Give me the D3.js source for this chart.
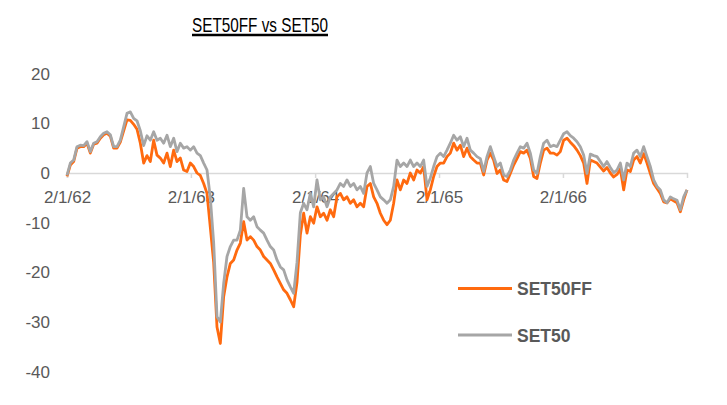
<!DOCTYPE html>
<html lang="en">
  <head>
    <script src="https://d3js.org/d3.v7.min.js"></script>
    <style>
      body { margin: 0; background: #fff; }
      text { font-family: "Liberation Sans", Arial, sans-serif; }
    </style>
  </head>
  <body>
    <script>
      // readings from the chart, one value about every 9.8 days from 2 Jan 2562 (2019)
      var set50ff = [
        -0.7, 1.6, 2.3, 5.0, 5.3, 5.3, 6.0, 4.0, 5.8, 6.0,
        7.0, 7.7, 8.0, 7.4, 5.0, 5.0, 6.2, 8.5, 10.7, 10.6,
        9.8, 8.8, 6.0, 2.0, 3.5, 2.3, 6.6, 3.6, 3.0, 2.0,
        4.0, 1.3, 4.6, 2.3, 3.0, 0.6, 0.3, 2.0, 1.3, 0.0,
        -0.5, -2.1, -4.1, -11.0, -18.0, -31.0, -34.3, -24.9, -20.9, -18.2,
        -17.5, -15.5, -14.1, -9.8, -13.5, -12.8, -13.5, -14.8, -15.5, -16.8,
        -17.5, -18.2, -19.5, -20.9, -22.2, -23.5, -24.2, -25.5, -26.9, -22.0,
        -12.5, -8.1, -12.1, -8.8, -10.1, -6.8, -8.8, -8.1, -9.5, -7.4,
        -8.8, -4.8, -4.1, -5.4, -4.8, -6.1, -5.4, -6.8, -6.1, -6.8,
        -2.7, -2.1, -4.8, -6.1, -8.1, -9.5, -10.4, -9.5, -6.1, -1.4,
        -3.4, -1.4, -2.1, 0.0, -1.4, 0.6, 0.0, 1.3, -5.4, -3.4,
        -0.7, 1.3, 2.0, 2.0, 3.3, 4.0, 6.0, 4.6, 5.6, 3.3,
        5.0, 3.3, 2.6, 2.0, 2.0, -0.4, 2.6, 4.0, 2.6, -0.1,
        0.6, -1.4, -1.7, -0.1, 1.6, 2.9, 4.3, 4.0, 4.6, 2.9,
        -0.7, -1.1, 2.0, 4.6, 5.0, 4.0, 4.0, 3.6, 4.3, 6.6,
        7.0, 6.2, 5.5, 4.6, 3.5, 2.0, -2.1, 2.6, 2.3, 2.0,
        1.2, 0.4, 1.1, 0.0, -0.8, -0.3, 0.8, -3.4, 0.6, 0.3,
        2.6, 3.3, 2.0, 3.9, 2.0, -0.1, -2.1, -3.1, -4.1, -5.8,
        -6.0, -5.2, -5.6, -6.0, -7.8, -5.4, -3.4
      ];
      var set50 = [
        -0.5, 2.0, 2.6, 5.3, 5.6, 5.5, 6.3, 4.3, 6.0, 6.3,
        7.3, 8.0, 8.3, 7.7, 5.3, 5.3, 6.6, 9.3, 12.0, 12.3,
        11.0, 10.5, 8.5, 5.5, 7.5, 6.6, 8.3, 6.6, 7.0, 6.0,
        7.6, 5.3, 7.0, 4.3, 6.0, 5.0, 5.3, 4.6, 5.3, 4.0,
        3.5, 2.0, 0.6, -5.0, -14.0, -28.9, -30.0, -22.2, -16.8, -14.8,
        -13.5, -13.5, -11.5, -3.1, -8.8, -9.5, -8.8, -10.8, -11.5, -12.1,
        -13.5, -14.8, -15.5, -17.5, -18.9, -19.5, -21.5, -22.9, -24.2, -18.0,
        -8.0, -6.1, -7.4, -4.1, -6.8, -1.4, -5.4, -4.8, -6.8, -4.8,
        -4.1, -3.4, -2.1, -2.7, -1.4, -2.7, -2.1, -3.4, -2.7, -4.1,
        0.0, 1.3, -2.1, -3.4, -4.8, -5.4, -6.1, -5.4, -2.7, 2.6,
        1.3, 2.0, 1.3, 2.6, 1.3, 2.0, 1.3, 2.6, -2.7, -1.0,
        1.3, 3.3, 4.0, 3.3, 4.6, 6.0, 7.6, 6.6, 7.3, 5.3,
        7.0, 4.6, 4.0, 3.3, 2.9, 0.3, 3.3, 5.3, 3.3, 1.3,
        2.0, -0.4, -0.7, 0.6, 2.6, 4.0, 5.3, 5.0, 6.0, 4.0,
        0.6, -0.1, 3.3, 6.0, 6.6, 5.3, 5.6, 5.3, 6.6, 7.9,
        8.3, 7.5, 7.0, 6.3, 5.3, 3.6, -0.1, 3.8, 3.5, 3.3,
        2.3, 1.3, 2.3, 1.1, 0.1, 0.6, 2.0, -1.4, 2.0, 1.3,
        4.0, 4.6, 3.3, 5.3, 3.3, 1.3, -1.4, -2.7, -3.4, -5.4,
        -6.0, -4.8, -5.2, -5.5, -7.4, -4.8, -3.4
      ];
      var startDate = new Date(2019, 0, 2);
      var stepDays = 9.82;
      var tickDates = [
        new Date(2019, 0, 2),
        new Date(2020, 0, 2),
        new Date(2021, 0, 2),
        new Date(2022, 0, 2),
        new Date(2023, 0, 2)
      ];
      var yTicks = [20, 10, 0, -10, -20, -30, -40];

      var width = 727,
        height = 405;

      var dates = set50.map(function (d, i) {
        return new Date(startDate.getTime() + i * stepDays * 864e5);
      });

      var svg = d3
        .select("body")
        .append("svg")
        .attr("width", width)
        .attr("height", height);

      var x = d3
        .scaleTime()
        .domain([startDate, dates[dates.length - 1]])
        .range([67, 687]);

      var y = d3.scaleLinear().domain([-40, 20]).range([371.8, 73.6]);

      // title: narrow look, squeeze a normal sans to the original width
      var titleG = svg.append("g");
      var title = titleG
        .append("text")
        .attr("x", 0)
        .attr("y", 0)
        .attr("text-anchor", "middle")
        .style("font-size", "20px")
        .attr("fill", "#000")
        .text("SET50FF vs SET50");
      var tb = title.node().getBBox();
      var sx = 136 / tb.width;
      titleG.attr("transform", "translate(260,32) scale(" + sx + ",1)");
      titleG
        .append("line")
        .attr("x1", tb.x)
        .attr("x2", tb.x + tb.width)
        .attr("y1", 3)
        .attr("y2", 3)
        .attr("stroke", "#000")
        .attr("stroke-width", 2.5);

      // y labels (no axis line in the original)
      svg
        .append("g")
        .selectAll("text")
        .data(yTicks)
        .join("text")
        .attr("x", 50)
        .attr("y", function (d) {
          return y(d) + 6;
        })
        .attr("text-anchor", "end")
        .attr("fill", "#595959")
        .style("font-size", "17px")
        .text(function (d) {
          return d;
        });

      // zero line with date ticks
      var xAxis = d3
        .axisBottom(x)
        .tickValues(tickDates)
        .tickSize(5)
        .tickPadding(13)
        .tickFormat(function (d) {
          return d.getDate() + "/" + (d.getMonth() + 1) + "/" + ((d.getFullYear() + 543) % 100);
        });
      var gx = svg
        .append("g")
        .attr("transform", "translate(0," + y(0) + ")")
        .call(xAxis);
      gx.select(".domain").attr("stroke", "#d9d9d9").attr("stroke-width", 1.5);
      gx.selectAll(".tick line").attr("stroke", "#d9d9d9").attr("stroke-width", 1.5);
      gx.selectAll(".tick text")
        .attr("fill", "#595959")
        .style("font-size", "17px")
        .style("font-family", '"Liberation Sans", Arial, sans-serif');

      var line = d3
        .line()
        .x(function (d, i) {
          return x(dates[i]);
        })
        .y(function (d) {
          return y(d);
        });

      var series = [
        { name: "SET50FF", values: set50ff, color: "#ff6a0f" },
        { name: "SET50", values: set50, color: "#a6a6a6" }
      ];

      svg
        .selectAll("path.series")
        .data(series)
        .join("path")
        .attr("class", "series")
        .attr("fill", "none")
        .attr("stroke", function (d) {
          return d.color;
        })
        .attr("stroke-width", 2.8)
        .attr("stroke-linejoin", "round")
        .attr("d", function (d) {
          return line(d.values);
        });

      // legend
      var legend = svg
        .append("g")
        .selectAll("g")
        .data(series)
        .join("g")
        .attr("transform", function (d, i) {
          return "translate(458," + (288.5 + i * 46.5) + ")";
        });
      legend
        .append("line")
        .attr("x1", 0)
        .attr("x2", 54)
        .attr("stroke", function (d) {
          return d.color;
        })
        .attr("stroke-width", 3);
      legend
        .append("text")
        .attr("x", 59)
        .attr("y", 6.5)
        .attr("fill", "#595959")
        .style("font-size", "17.5px")
        .style("font-weight", "bold")
        .text(function (d) {
          return d.name;
        });
    </script>
  </body>
</html>
